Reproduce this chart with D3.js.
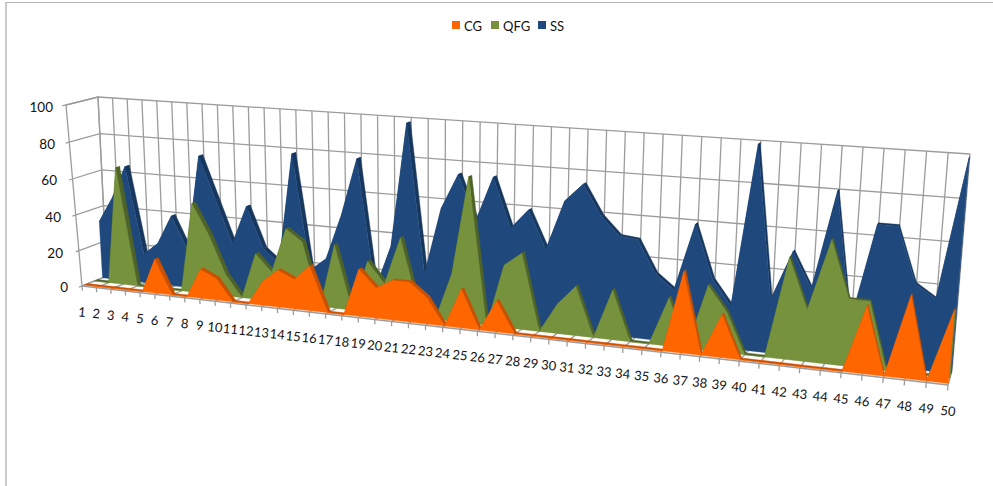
<!DOCTYPE html>
<html>
<head>
<meta charset="utf-8">
<style>
  html, body { margin: 0; padding: 0; background: #fff; }
  svg { display: block; }
  text { font-family: Lato, "Open Sans", sans-serif; fill: #111; }
</style>
<script src="https://cdn.jsdelivr.net/npm/d3@7"></script>
</head>
<body>
<svg id="chart" width="993" height="486"></svg>
<script>
// Three series plotted across fifty categories
const categories = d3.range(1, 51);
const valueTicks = [0, 20, 40, 60, 80, 100];
const seriesNames = ["CG", "QFG", "SS"];

const cgValues = [0,0,0,0,0,19,0,0,16,12,0,0,13,20,16,24,0,0,25,16,21,21,14,0,20,0,16,0,0,0,0,0,0,0,0,0,40,0,21,0,0,0,0,0,0,32,0,39,0,34];
const qfgValues = [0,0,65,0,0,0,0,49,33,12,0,25,16,40,34,0,34,0,27,16,41,6,0,25,75,0,32,39,0,15,25,0,25,0,0,24,0,32,20,0,0,49,25,59,32,32,0,0,0,32];
const ssValues = [32,46,64,16,23,39,21,73,50,27,48,26,19,78,17,24,48,78,10,34,98,21,56,74,51,74,49,59,40,65,74,59,50,49,33,26,59,33,21,99,26,50,33,80,19,66,66,40,34,99];

const faceColors = ["#ff6600", "#76923c", "#1f497d"];
const sideColors = ["#c95000", "#4f6228", "#17375e"];
const seriesDepths = [[0.10, 0.24], [0.50, 0.64], [0.82, 0.97]];
const gridColor = "#9c9c9c";

// Maps the unit square onto a quadrilateral given as [p00, p10, p11, p01]
function quadMap([p00, p10, p11, p01]) {
  const dx1 = p10[0] - p11[0], dx2 = p01[0] - p11[0], sx = p00[0] - p10[0] + p11[0] - p01[0];
  const dy1 = p10[1] - p11[1], dy2 = p01[1] - p11[1], sy = p00[1] - p10[1] + p11[1] - p01[1];
  const den = dx1 * dy2 - dx2 * dy1;
  const g = (sx * dy2 - dx2 * sy) / den;
  const h = (dx1 * sy - sx * dy1) / den;
  const a = p10[0] - p00[0] + g * p10[0], b = p01[0] - p00[0] + h * p01[0], c = p00[0];
  const d = p10[1] - p00[1] + g * p10[1], e = p01[1] - p00[1] + h * p01[1], f = p00[1];
  return (u, v) => {
    const w = g * u + h * v + 1;
    return [(a * u + b * v + c) / w, (d * u + e * v + f) / w];
  };
}

// Front and back planes of the plot box: bottom-left, bottom-right, top-right, top-left
const frontPlane = quadMap([[82, 286], [948, 385], [966, 163], [66, 105]]);
const backPlane = quadMap([[107, 276], [952, 371], [970, 154], [98, 97]]);

const xScale = d3.scalePoint().domain(categories).range([0, 1]);
const yScale = d3.scaleLinear().domain([0, 100]).range([0, 1]);

// Projects a category, a value and a depth (0 front, 1 back) to the page
function project(cat, value, depth) {
  const u = xScale(cat), v = yScale(value);
  const f = frontPlane(u, v), b = backPlane(u, v);
  return [f[0] + (b[0] - f[0]) * depth, f[1] + (b[1] - f[1]) * depth];
}

const svg = d3.select("#chart");
const line = d3.line();
const first = categories[0], last = categories[categories.length - 1];

// Sheet edges
svg.append("line").attr("x1", 6).attr("x2", 6).attr("y1", 2).attr("y2", 486)
  .attr("stroke", "#bdbdbd").attr("stroke-width", 1.6);
svg.append("line").attr("x1", 6).attr("x2", 993).attr("y1", 2.5).attr("y2", 2.5)
  .attr("stroke", "#b5b5b5").attr("stroke-width", 1.2);

// Walls, floor and axis ticks
const grid = svg.append("g").attr("fill", "none").attr("stroke", gridColor).attr("stroke-width", 1.3);
grid.selectAll(".back-v").data(categories).join("path").attr("class", "back-v")
  .attr("d", c => line([project(c, 0, 1), project(c, 100, 1)]));
grid.selectAll(".floor").data(categories).join("path").attr("class", "floor")
  .attr("d", c => line([project(c, 0, 1), project(c, 0, 0), project(c, -2.6, 0)]));
grid.selectAll(".wall-h").data(valueTicks).join("path").attr("class", "wall-h")
  .attr("d", v => line([project(last, v, 1), project(first, v, 1), project(first, v, -0.12)]));
grid.append("path").attr("d", line([project(first, 0, 0), project(first, 100, 0), project(first, 100, 1), project(first, 0, 1)]));
grid.append("path").attr("d", line([project(first, 0, 0), project(last, 0, 0)])).attr("stroke-width", 1.5);
grid.append("path").attr("d", line([project(first, 0, 1), project(last, 0, 1)]));

// Series, drawn from back to front: top facets first, then the front face
[ssValues, qfgValues, cgValues].forEach((values, k) => {
  const idx = 2 - k;
  const [d0, d1] = seriesDepths[idx];
  const g = svg.append("g");
  const segs = d3.pairs(categories.map((c, i) => [c, values[i]]));
  g.selectAll(".facet").data(segs).join("path").attr("class", "facet")
    .attr("fill", sideColors[idx]).attr("stroke", sideColors[idx]).attr("stroke-width", 0.4)
    .attr("d", ([a, b]) => line([
      project(a[0], a[1], d0), project(b[0], b[1], d0),
      project(b[0], b[1], d1), project(a[0], a[1], d1)
    ]) + "Z");
  g.append("path").attr("fill", sideColors[idx])
    .attr("d", line([
      project(last, 0, d0), project(last, values[values.length - 1], d0),
      project(last, values[values.length - 1], d1), project(last, 0, d1)
    ]) + "Z");
  const top = categories.map((c, i) => project(c, values[i], d0));
  g.append("path").attr("fill", faceColors[idx]).attr("stroke", faceColors[idx]).attr("stroke-width", 0.4)
    .attr("d", line([project(first, 0, d0), ...top, project(last, 0, d0)]) + "Z");
});

// Value axis labels
const yLabelEnd = [68, 63, 61, 57, 55, 53];
const yLabelMid = [287, 253, 217, 180, 144, 107];
svg.append("g").selectAll("text").data(valueTicks).join("text")
  .attr("x", (d, i) => yLabelEnd[i]).attr("y", (d, i) => yLabelMid[i])
  .attr("dy", "0.35em").attr("text-anchor", "end").attr("font-size", 13.5)
  .text(d => d);

// Category axis labels follow the slope of the front edge
svg.append("g").selectAll("text").data(categories).join("text")
  .attr("transform", c => {
    const p = project(c, 0, 0);
    return `translate(${p[0]},${p[1] + 26}) rotate(6)`;
  })
  .attr("dy", "0.35em").attr("text-anchor", "middle").attr("font-size", 13)
  .text(c => c);

// Legend
const legendSwatch = [452, 491, 538];
const legend = svg.append("g").selectAll("g").data(seriesNames).join("g")
  .attr("transform", (d, i) => `translate(${legendSwatch[i]},21)`);
legend.append("rect").attr("width", 8).attr("height", 8).attr("fill", (d, i) => faceColors[i]);
legend.append("text").attr("x", 12).attr("y", 5).attr("dy", "0.35em").attr("font-size", 13).text(d => d);
</script>
</body>
</html>
